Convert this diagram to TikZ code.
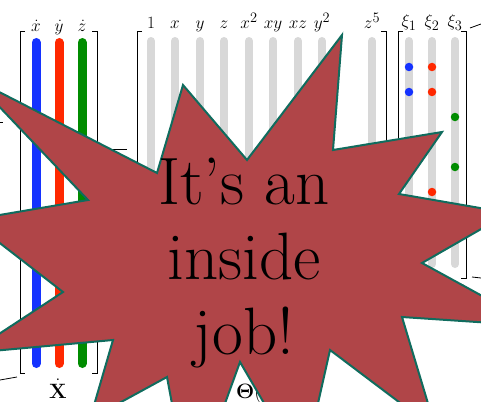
\documentclass[tikz,border=0pt]{standalone}
\usepackage{amsmath}
\usepackage{xcolor}
\usepackage{tikz}
\usetikzlibrary{positioning}

\definecolor{burstred}{RGB}{176,69,72}
\definecolor{burstedge}{RGB}{16,108,94}
\definecolor{barblue}{RGB}{20,50,255}
\definecolor{barred}{RGB}{255,40,0}
\definecolor{bargreen}{RGB}{0,140,0}
\definecolor{bargray}{RGB}{216,216,216}

\tikzset{
  bar/.style={line width=9pt, line cap=round},
  graybar/.style={bar, draw=bargray, line width=8pt},
  bracket/.style={line width=0.8pt},
  collabel/.style={anchor=base, inner sep=0pt, font=\fontsize{19}{22}\selectfont},
  coef/.style={circle, inner sep=0pt, minimum size=8.5pt},
  burst/.style={fill=burstred, draw=burstedge, line width=2pt},
  bursttext/.style={anchor=base, inner sep=0pt, font=\fontsize{67}{78}\selectfont},
}

\begin{document}
\begin{tikzpicture}[x=1pt, y=-1pt]
  \useasboundingbox (0,0) rectangle (481,401);
  \clip (0,0) rectangle (481,401);

  % left-hand side
  \draw[bracket] (25,31) -- (20,31) -- (20,373) -- (25,373);
  \draw[bracket] (92,31) -- (97,31) -- (97,373) -- (92,373);
  \draw[bar, barblue] (36,42.5) -- (36,363.5);
  \draw[bar, barred] (59,42.5) -- (59,363.5);
  \draw[bar, bargreen] (82,42.5) -- (82,363.5);
  \node[collabel] (xdot) at (36,32) {$\dot{x}$};
  \node[collabel] (ydot) at (59,32) {$\dot{y}$};
  \node[collabel] (zdot) at (82,32) {$\dot{z}$};
  \node[anchor=base, inner sep=0pt, font=\fontsize{21}{24}\selectfont] (Xdot) at (58,398) {$\dot{\mathbf{X}}$};

  \draw[bracket] (110,149) -- (127,149);

  % library
  \draw[bracket] (142,31) -- (137,31) -- (137,373) -- (142,373);
  \draw[bracket] (381,31) -- (386,31) -- (386,373) -- (381,373);
  \draw[graybar] (151,41) -- (151,364);
  \draw[graybar] (175,41) -- (175,364);
  \draw[graybar] (200,41) -- (200,364);
  \draw[graybar] (224,41) -- (224,364);
  \draw[graybar] (249,41) -- (249,364);
  \draw[graybar] (273,41) -- (273,364);
  \draw[graybar] (298,41) -- (298,364);
  \draw[graybar] (322,41) -- (322,364);
  \draw[graybar] (372,41) -- (372,364);
  \node[collabel] (one) at (151,29) {$1$};
  \node[collabel] (lx) at (175,29) {$x$};
  \node[collabel] (ly) at (200,29) {$y$};
  \node[collabel] (lz) at (224,29) {$z$};
  \node[collabel] (lxx) at (249,29) {$x^2$};
  \node[collabel] (lxy) at (273,29) {$xy$};
  \node[collabel] (lxz) at (298,29) {$xz$};
  \node[collabel] (lyy) at (322,29) {$y^2$};
  \node[collabel] (lz5) at (372,29) {$z^5$};
  \node[anchor=base west, inner sep=0pt, font=\fontsize{21}{24}\selectfont] (Theta) at (236,398) {$\boldsymbol{\Theta}(\mathbf{X})$};

  % coefficients
  \draw[bracket] (403,31) -- (398,31) -- (398,278) -- (403,278);
  \draw[bracket] (461,31) -- (466,31) -- (466,278) -- (461,278);
  \draw[graybar] (409,41) -- (409,264);
  \draw[graybar] (432,41) -- (432,264);
  \draw[graybar] (455,41) -- (455,264);
  \node[collabel] (xi1) at (409,27) {$\xi_1$};
  \node[collabel] (xi2) at (432,27) {$\xi_2$};
  \node[collabel] (xi3) at (455,27) {$\xi_3$};
  \node[coef, fill=barblue] (b1) at (409,67) {};
  \node[coef, fill=barblue] (b2) at (409,92) {};
  \node[coef, fill=barred] (r1) at (432,67) {};
  \node[coef, fill=barred] (r2) at (432,92) {};
  \node[coef, fill=barred] (r3) at (432,192) {};
  \node[coef, fill=bargreen] (g1) at (455,117) {};
  \node[coef, fill=bargreen] (g2) at (455,167) {};

  % cut-off strokes at the edges
  \draw[bracket] (0,122) -- (3,122);
  \draw[bracket] (0,380) -- (17,377);
  \draw[bracket] (470,28) -- (481,24);
  \draw[bracket] (472,277) -- (481,278);
  \draw[bracket] (463,285) -- (473,293);

  % starburst
  \draw[burst] (183,85) -- (247,160) -- (342,35) -- (333,150) -- (442,132)
    -- (399,194) -- (509,213) -- (422,263) -- (537,326) -- (402,317)
    -- (436,430) -- (330,350) -- (303,470) -- (240,362) -- (190,500)
    -- (167,377) -- (90,419) -- (113,340) -- (-30,353) -- (63,292)
    -- (-30,220) -- (88,200) -- (-28,78) -- (157,173) -- cycle;
  \node[bursttext] (itsan) at (244,204) {It's an};
  \node[bursttext] (inside) at (244,279) {inside};
  \node[bursttext] (job) at (244,354) {job!};
\end{tikzpicture}
\end{document}
